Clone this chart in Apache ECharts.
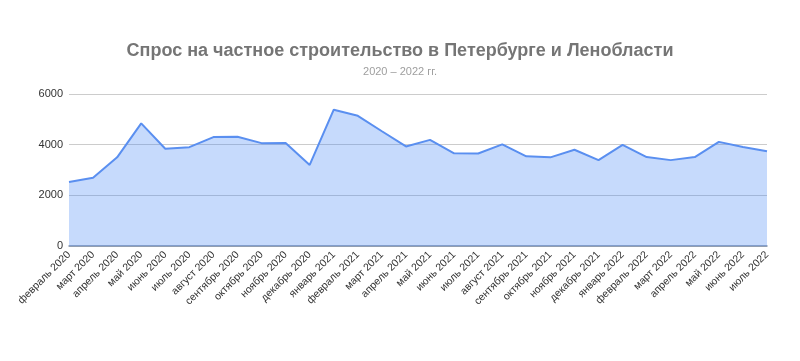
<!DOCTYPE html>
<html><head><meta charset="utf-8">
<script src="https://cdn.jsdelivr.net/npm/echarts@6/dist/echarts.min.js"></script>
<style>html,body{margin:0;padding:0;background:#fff}#c{width:800px;height:361px}</style>
</head><body><div id="c"></div>
<script>
const categories = ["февраль 2020","март 2020","апрель 2020","май 2020","июнь 2020","июль 2020","август 2020","сентябрь 2020","октябрь 2020","ноябрь 2020","декабрь 2020","январь 2021","февраль 2021","март 2021","апрель 2021","май 2021","июнь 2021","июль 2021","август 2021","сентябрь 2021","октябрь 2021","ноябрь 2021","декабрь 2021","январь 2022","февраль 2022","март 2022","апрель 2022","май 2022","июнь 2022","июль 2022"];
const demand = [2530,2690,3500,4840,3840,3900,4300,4310,4060,4070,3200,5380,5140,4530,3930,4190,3660,3650,4010,3540,3500,3800,3390,3990,3510,3390,3510,4110,3910,3740];
const yTicks = [0,2000,4000,6000];
const titleText = "Спрос на частное строительство в Петербурге и Ленобласти";
const subtitleText = "2020 – 2022 гг.";

const chart = echarts.init(document.getElementById('c'), null, {renderer:'canvas'});
chart.setOption({
  animation:false,
  title:{
    text:titleText, subtext:subtitleText, left:'center', top:37, itemGap:6,
    textStyle:{fontFamily:'Liberation Sans, Arial, sans-serif', fontSize:18, fontWeight:'bold', color:'#757575'},
    subtextStyle:{fontFamily:'Liberation Sans, Arial, sans-serif', fontSize:11, color:'#9e9e9e'}
  },
  grid:{left:69, right:33, top:94, bottom:115},
  xAxis:{
    type:'category', data:categories, boundaryGap:false,
    axisLine:{lineStyle:{color:'#7f8fa6', width:1.5}},
    axisTick:{show:false},
    axisLabel:{rotate:45, interval:0, fontSize:10.5, color:'#333', margin:7, fontFamily:'Liberation Sans, Arial, sans-serif'}
  },
  yAxis:{
    type:'value', min:yTicks[0], max:yTicks[yTicks.length-1], interval:2000,
    axisLine:{show:false}, axisTick:{show:false},
    axisLabel:{fontSize:11, color:'#333', margin:6, fontFamily:'Liberation Sans, Arial, sans-serif', formatter:function(v){return String(v);}},
    splitLine:{lineStyle:{color:'#cccccc', width:1}}
  },
  series:[{
    type:'line', data:demand, showSymbol:false,
    lineStyle:{color:'#5a8ff0', width:2},
    areaStyle:{color:'#4285f4', opacity:0.3},
    z:1
  }]
});
</script></body></html>
